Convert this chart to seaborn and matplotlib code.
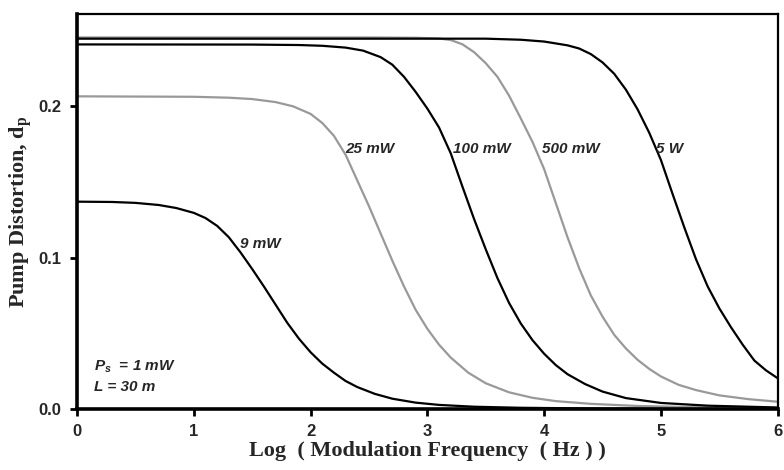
import matplotlib
matplotlib.use("Agg")
import matplotlib.pyplot as plt
import seaborn as sns
import pandas as pd

# ---- data ----
x_9mW = [0, 0.3, 0.5, 0.7, 0.85, 1.0, 1.1, 1.2, 1.3, 1.4, 1.5, 1.6, 1.7, 1.8, 1.9, 2.0,
         2.1, 2.2, 2.3, 2.4, 2.55, 2.7, 2.9, 3.1, 3.4, 3.8, 4.5, 6.0]
y_9mW = [0.1370, 0.1368, 0.1362, 0.1348, 0.1328, 0.1296, 0.1262, 0.1210, 0.1135, 0.1035,
         0.0925, 0.0810, 0.0690, 0.0570, 0.0465, 0.0375, 0.0300, 0.0240, 0.0185, 0.0145,
         0.0100, 0.0068, 0.0042, 0.0027, 0.0015, 0.0008, 0.0003, 0.0001]

x_25mW = [0, 1.0, 1.3, 1.5, 1.7, 1.85, 2.0, 2.1, 2.2, 2.3, 2.4, 2.5, 2.6, 2.7, 2.8, 2.9,
          3.0, 3.1, 3.2, 3.35, 3.5, 3.7, 3.9, 4.1, 4.4, 4.8, 5.3, 6.0]
y_25mW = [0.2066, 0.2063, 0.2057, 0.2048, 0.2028, 0.2000, 0.1950, 0.1890, 0.1805, 0.1680,
          0.1510, 0.1340, 0.1160, 0.0980, 0.0810, 0.0655, 0.0530, 0.0425, 0.0340, 0.0240,
          0.0170, 0.0110, 0.0074, 0.0052, 0.0034, 0.0020, 0.0012, 0.0006]

x_100mW = [0, 1.5, 1.9, 2.1, 2.3, 2.45, 2.6, 2.7, 2.8, 2.9, 3.0, 3.1, 3.2, 3.3, 3.4, 3.5,
           3.6, 3.7, 3.8, 3.9, 4.0, 4.1, 4.2, 4.35, 4.5, 4.7, 5.0, 5.4, 6.0]
y_100mW = [0.2409, 0.2408, 0.2405, 0.2400, 0.2388, 0.2368, 0.2325, 0.2275, 0.2195, 0.2095,
           0.1985, 0.1860, 0.1690, 0.1470, 0.1255, 0.1055, 0.0865, 0.0700, 0.0565, 0.0455,
           0.0365, 0.0290, 0.0230, 0.0165, 0.0115, 0.0072, 0.0040, 0.0022, 0.0010]

x_500mW = [0, 2.5, 2.9, 3.1, 3.2, 3.3, 3.4, 3.5, 3.6, 3.7, 3.8, 3.9, 4.0, 4.1, 4.2, 4.3,
           4.4, 4.5, 4.6, 4.7, 4.8, 4.9, 5.0, 5.15, 5.3, 5.5, 5.75, 6.0]
y_500mW = [0.2455, 0.2455, 0.2453, 0.2448, 0.2438, 0.2410, 0.2358, 0.2285, 0.2195, 0.2070,
           0.1920, 0.1765, 0.1585, 0.1360, 0.1135, 0.0930, 0.0750, 0.0610, 0.0490, 0.0400,
           0.0325, 0.0265, 0.0215, 0.0160, 0.0125, 0.0090, 0.0065, 0.0048]

x_5W = [0, 3.5, 3.8, 4.0, 4.2, 4.3, 4.4, 4.5, 4.6, 4.7, 4.8, 4.9, 5.0, 5.1, 5.2, 5.3,
        5.4, 5.5, 5.6, 5.7, 5.8, 5.9, 6.0]
y_5W = [0.2447, 0.2447, 0.2440, 0.2428, 0.2403, 0.2382, 0.2345, 0.2290, 0.2215, 0.2110,
        0.1980, 0.1825, 0.1645, 0.1420, 0.1200, 0.0990, 0.0810, 0.0665, 0.0540, 0.0425,
        0.0320, 0.0255, 0.0203]

curve_names = ["9 mW", "25 mW", "100 mW", "500 mW", "5 W"]
curve_colors = ["#000000", "#999999", "#000000", "#999999", "#000000"]
label_x = [1.40, 2.295, 3.22, 3.98, 4.96]
label_y = [0.109, 0.1716, 0.1716, 0.1716, 0.1716]

x_ticks = [0, 1, 2, 3, 4, 5, 6]
y_ticks = [0.0, 0.1, 0.2]

frames = []
for name, xs, ys in zip(curve_names,
                        [x_9mW, x_25mW, x_100mW, x_500mW, x_5W],
                        [y_9mW, y_25mW, y_100mW, y_500mW, y_5W]):
    frames.append(pd.DataFrame({"curve": name, "x": xs, "y": ys}))
df = pd.concat(frames, ignore_index=True)

sns.set_theme(style="white")
plt.rcParams["font.family"] = ["Liberation Sans", "DejaVu Sans"]
plt.rcParams["mathtext.fontset"] = "custom"
plt.rcParams["mathtext.rm"] = "Liberation Serif"
plt.rcParams["mathtext.bf"] = "Liberation Serif:bold"
plt.rcParams["mathtext.it"] = "Liberation Sans:italic:bold"

fig = plt.figure(figsize=(7.84, 4.70), dpi=100)
ax = fig.add_axes([0.0982, 0.1298, 0.8938, 0.8404])

sns.lineplot(data=df, x="x", y="y", hue="curve", hue_order=curve_names,
             palette=dict(zip(curve_names, curve_colors)), estimator=None,
             legend=False, linewidth=1.6, ax=ax)

ax.set_xlim(0, 6)
ax.set_ylim(0, 0.261)
ax.set_xticks(x_ticks)
ax.set_xticklabels([str(t) for t in x_ticks])
ax.set_yticks(y_ticks)
ax.set_yticklabels([f"{t:.1f}" for t in y_ticks])

for lab in ax.get_xticklabels() + ax.get_yticklabels():
    lab.set_fontweight("bold")
    lab.set_fontsize(12)

ax.tick_params(axis="both", which="major", direction="out", length=5, width=2,
               color="black", bottom=True, left=True, pad=6)

for side in ["left", "bottom"]:
    ax.spines[side].set_linewidth(2.6)
    ax.spines[side].set_color("black")
for side in ["top", "right"]:
    ax.spines[side].set_linewidth(1.6)
    ax.spines[side].set_color("black")

ax.set_xlabel("Log  ( Modulation Frequency  ( Hz ) )", fontsize=16,
              fontweight="bold", family="Liberation Serif", labelpad=1)
ax.set_ylabel(r"Pump Distortion, d$_\mathbf{p}$", fontsize=16,
              fontweight="bold", family="Liberation Serif", labelpad=3)

for name, lx, ly in zip(curve_names, label_x, label_y):
    ax.text(lx, ly, name, fontsize=11, fontweight="bold", style="italic",
            ha="left", va="center")

ax.text(0.145, 0.0277, r"$P_{s}$  = 1 mW", fontsize=11, fontweight="bold",
        style="italic", ha="left", va="center")
ax.text(0.145, 0.0145, "L = 30 m", fontsize=11, fontweight="bold",
        style="italic", ha="left", va="center")

fig.savefig("out.png", dpi=100)
